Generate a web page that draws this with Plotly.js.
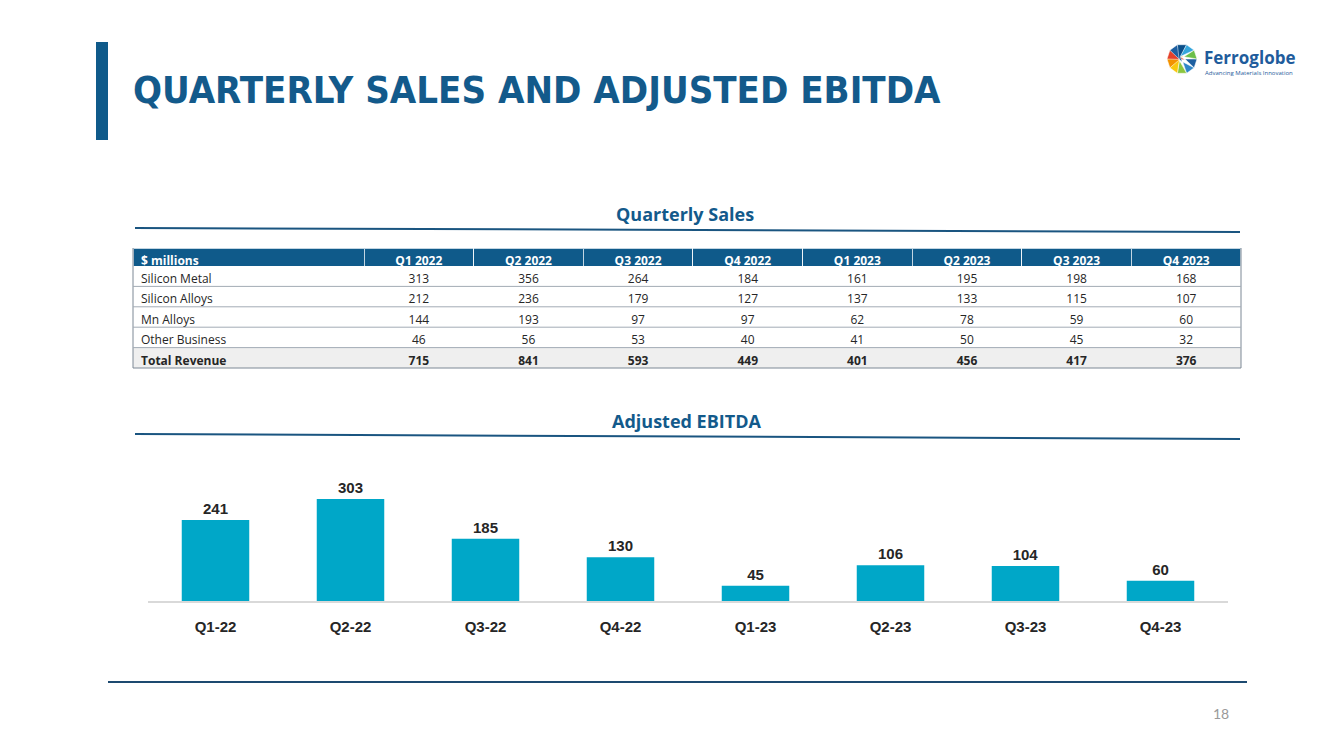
<!DOCTYPE html>
<html>
<head>
<meta charset="utf-8">
<script src="https://cdn.plot.ly/plotly-3.0.1.min.js"></script>
<style>
  html, body { margin: 0; padding: 0; background: #ffffff; }
  #chart { width: 1333px; height: 749px; }
</style>
</head>
<body>
<div id="chart"></div>
<script>
// ---------- DATA ----------
const tableColumns = ['Q1 2022', 'Q2 2022', 'Q3 2022', 'Q4 2022', 'Q1 2023', 'Q2 2023', 'Q3 2023', 'Q4 2023'];
const rowLabels = ['Silicon Metal', 'Silicon Alloys', 'Mn Alloys', 'Other Business', 'Total Revenue'];
const siliconMetal = [313, 356, 264, 184, 161, 195, 198, 168];
const siliconAlloys = [212, 236, 179, 127, 137, 133, 115, 107];
const mnAlloys = [144, 193, 97, 97, 62, 78, 59, 60];
const otherBusiness = [46, 56, 53, 40, 41, 50, 45, 32];
const totalRevenue = [715, 841, 593, 449, 401, 456, 417, 376];

const ebitdaQuarters = ['Q1-22', 'Q2-22', 'Q3-22', 'Q4-22', 'Q1-23', 'Q2-23', 'Q3-23', 'Q4-23'];
const adjustedEbitda = [241, 303, 185, 130, 45, 106, 104, 60];

// ---------- LAYOUT HELPERS ----------
const W = 1333, H = 749;
const X = p => p / W;
const Y = p => 1 - p / H;
const BLUE = '#135a8b';
const TEXT = '#262626';

// table geometry
const tblLeft = 133, tblRight = 1241, tblTop = 248, headH = 18, rowH = 20.4;
const tblBottom = tblTop + headH + rowH * rowLabels.length;

// ---------- TABLE ----------
const seriesRows = [siliconMetal, siliconAlloys, mnAlloys, otherBusiness, totalRevenue];
const lastRow = rowLabels.length - 1;
const cellValues = [rowLabels.slice()];
tableColumns.forEach((c, ci) => {
  cellValues.push(seriesRows.map(row => String(row[ci])));
});
const rowFill = rowLabels.map((r, i) => i === lastRow ? '#efefef' : '#ffffff');
const rowWeight = rowLabels.map((r, i) => i === lastRow ? 700 : 400);
const nCols = tableColumns.length + 1;

const tableTrace = {
  type: 'table',
  domain: { x: [X(tblLeft), X(tblRight)], y: [Y(tblBottom + 2), Y(tblTop)] },
  columnwidth: [231].concat(tableColumns.map(() => 109.6)),
  header: {
    values: ['$ millions'].concat(tableColumns),
    fill: { color: '#0f5a8a' },
    line: { color: 'rgba(255,255,255,0.75)', width: 1 },
    align: ['left'].concat(tableColumns.map(() => 'center')),
    font: { family: 'Open Sans, Arial, sans-serif', size: 12, color: '#ffffff', weight: 700 },
    height: headH
  },
  cells: {
    values: cellValues,
    fill: { color: [rowFill] },
    line: { width: 0, color: '#ffffff' },
    align: ['left'].concat(tableColumns.map(() => 'center')),
    font: { family: 'Open Sans, Arial, sans-serif', size: 12, color: TEXT,
            weight: Array.from({ length: nCols }, () => rowWeight) },
    height: rowH
  }
};

// ---------- BAR CHART ----------
const barTrace = {
  type: 'bar',
  x: ebitdaQuarters,
  y: adjustedEbitda,
  text: adjustedEbitda.map(String),
  textposition: 'outside',
  textfont: { family: 'Liberation Sans, Arial, sans-serif', size: 15, color: TEXT, weight: 'bold' },
  cliponaxis: false,
  marker: { color: '#00a7c8', line: { width: 0 } },
  hoverinfo: 'skip',
  showlegend: false
};

// ---------- SHAPES ----------
const shapes = [
  { type: 'rect', xref: 'paper', yref: 'paper', x0: X(96), x1: X(108), y0: Y(140), y1: Y(42), fillcolor: '#0f5a8a', line: { width: 0 } },
  { type: 'line', xref: 'paper', yref: 'paper', x0: X(135), x1: X(1240), y0: Y(228), y1: Y(232), line: { color: '#1a5580', width: 2 } },
  { type: 'line', xref: 'paper', yref: 'paper', x0: X(135), x1: X(1240), y0: Y(434), y1: Y(439), line: { color: '#1a5580', width: 2 } },
  { type: 'line', xref: 'paper', yref: 'paper', x0: X(108), x1: X(1247), y0: Y(682), y1: Y(682), line: { color: '#1d4a70', width: 2 } },
  { type: 'line', xref: 'paper', yref: 'paper', x0: X(tblLeft), x1: X(tblLeft), y0: Y(tblTop), y1: Y(tblBottom), line: { color: '#7c8895', width: 1 } },
  { type: 'line', xref: 'paper', yref: 'paper', x0: X(tblRight), x1: X(tblRight), y0: Y(tblTop), y1: Y(tblBottom), line: { color: '#7c8895', width: 1 } }
];
for (let i = 1; i <= rowLabels.length; i++) {
  const yy = tblTop + headH + rowH * i;
  shapes.push({ type: 'line', xref: 'paper', yref: 'paper', x0: X(tblLeft), x1: X(tblRight), y0: Y(yy), y1: Y(yy),
    line: { color: i === rowLabels.length ? '#7c8895' : '#a3acb5', width: 1 } });
}
// logo (simple faceted globe)
const cx = 1182, cy = 59, r = 15;
const logoColors = ['#1d5fa0', '#2f86c8', '#8cc63f', '#f9c80e', '#f39200', '#e4412b', '#1d5fa0', '#0b4f8a', '#35a6dc', '#6cbf4a'];
const n = logoColors.length;
for (let k = 0; k < n; k++) {
  const a0 = (k / n) * 2 * Math.PI, a1 = ((k + 1) / n) * 2 * Math.PI;
  const ox = cx + 3 * Math.cos(k * 1.3), oy = cy + 3 * Math.sin(k * 1.3);
  const p = 'M' + X(ox) + ',' + Y(oy) +
    ' L' + X(cx + r * Math.cos(a0)) + ',' + Y(cy + r * Math.sin(a0)) +
    ' L' + X(cx + r * Math.cos(a1)) + ',' + Y(cy + r * Math.sin(a1)) + ' Z';
  shapes.push({ type: 'path', xref: 'paper', yref: 'paper', path: p, fillcolor: logoColors[k], line: { width: 0.5, color: '#ffffff' } });
}

// ---------- ANNOTATIONS ----------
const annotations = [
  { text: '<b>QUARTERLY SALES AND ADJUSTED EBITDA</b>', xref: 'paper', yref: 'paper', x: X(131), y: Y(90),
    xanchor: 'left', yanchor: 'middle', showarrow: false,
    font: { family: 'DejaVu Sans Condensed, Roboto, Arial, sans-serif', size: 38, color: BLUE } },
  { text: '<b>Quarterly Sales</b>', xref: 'paper', yref: 'paper', x: X(685), y: Y(214),
    xanchor: 'center', yanchor: 'middle', showarrow: false,
    font: { family: 'Open Sans, Arial, sans-serif', size: 18, color: BLUE } },
  { text: '<b>Adjusted EBITDA</b>', xref: 'paper', yref: 'paper', x: X(686), y: Y(421),
    xanchor: 'center', yanchor: 'middle', showarrow: false,
    font: { family: 'Open Sans, Arial, sans-serif', size: 18, color: BLUE } },
  { text: '<b>Ferroglobe</b>', xref: 'paper', yref: 'paper', x: X(1202), y: Y(57),
    xanchor: 'left', yanchor: 'middle', showarrow: false,
    font: { family: 'Open Sans, Arial, sans-serif', size: 17, color: '#1f5c9c' } },
  { text: 'Advancing Materials Innovation', xref: 'paper', yref: 'paper', x: X(1203), y: Y(73),
    xanchor: 'left', yanchor: 'middle', showarrow: false,
    font: { family: 'Open Sans, Arial, sans-serif', size: 6, color: '#1f5c9c' } },
  { text: '18', xref: 'paper', yref: 'paper', x: X(1221), y: Y(713),
    xanchor: 'center', yanchor: 'middle', showarrow: false,
    font: { family: 'Lato, Arial, sans-serif', size: 14, color: '#9a9a9a' } }
];

const layout = {
  width: W, height: H,
  margin: { l: 0, r: 0, t: 0, b: 0 },
  paper_bgcolor: '#ffffff',
  plot_bgcolor: 'rgba(0,0,0,0)',
  showlegend: false,
  bargap: 0.5,
  xaxis: {
    domain: [X(148), X(1228)],
    type: 'category',
    showgrid: false, zeroline: false,
    showline: true, linecolor: '#d9d9d9', linewidth: 1.5,
    ticks: '', ticklabelstandoff: 11,
    tickfont: { family: 'Liberation Sans, Arial, sans-serif', size: 15, color: TEXT, weight: 'bold' },
    fixedrange: true
  },
  yaxis: {
    domain: [Y(601), Y(461)],
    range: [0, 416],
    visible: false, showgrid: false, zeroline: false,
    fixedrange: true
  },
  shapes: shapes,
  annotations: annotations
};

Plotly.newPlot('chart', [barTrace, tableTrace], layout, { displayModeBar: false, staticPlot: true });
</script>
</body>
</html>
